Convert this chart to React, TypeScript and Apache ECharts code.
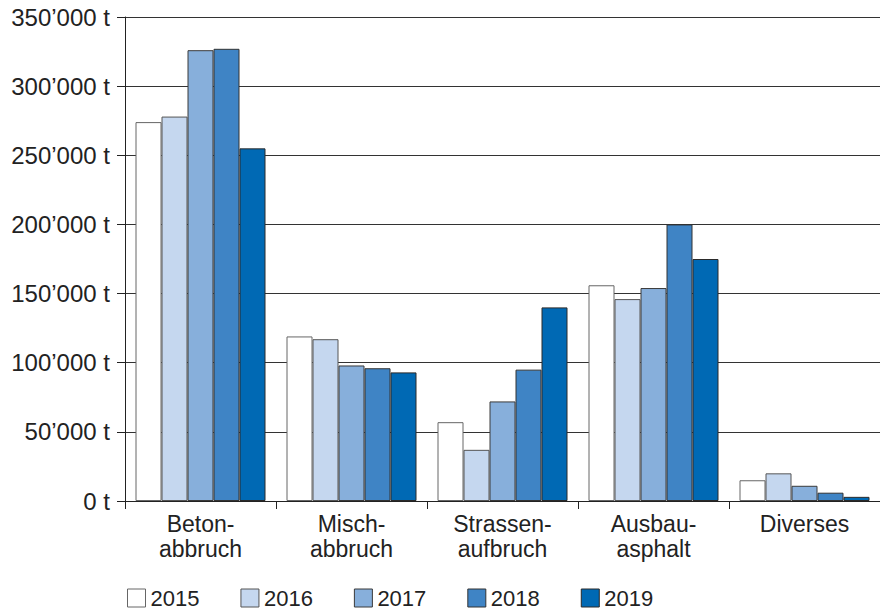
import React, { useEffect, useRef } from "react";
import * as echarts from "echarts";

const categories = ["Beton-\nabbruch", "Misch-\nabbruch", "Strassen-\naufbruch", "Ausbau-\nasphalt", "Diverses"];
const years = ["2015", "2016", "2017", "2018", "2019"];
const v2015 = [274000, 119000, 57000, 156000, 15000];
const v2016 = [278000, 117000, 37000, 146000, 20000];
const v2017 = [326000, 98000, 72000, 154000, 11000];
const v2018 = [327000, 96000, 95000, 200000, 6000];
const v2019 = [255000, 93000, 140000, 175000, 3000];
const yTickValues = [0, 50000, 100000, 150000, 200000, 250000, 300000, 350000];
const yTickLabels = ["0 t", "50’000 t", "100’000 t", "150’000 t", "200’000 t", "250’000 t", "300’000 t", "350’000 t"];
const colors = ["#ffffff", "#c5d7ef", "#87afdb", "#3f84c5", "#0069b4"];
const borders = ["#666666", "#555555", "#3a3a3a", "#333333", "#2a2a2a"];

const FONT = "Liberation Sans, Arial, sans-serif";

export default function App() {
  const ref = useRef<HTMLDivElement>(null);
  useEffect(() => {
    document.body.style.margin = "0";
    if (!ref.current) return;
    const chart = echarts.init(ref.current, undefined, { renderer: "svg" });
    const seriesData = [v2015, v2016, v2017, v2018, v2019];
    chart.setOption({
      animation: false,
      backgroundColor: "#ffffff",
      textStyle: { fontFamily: FONT },
      grid: { left: 125, right: -11, top: 17, bottom: 110, containLabel: false },
      legend: {
        data: years.map((y, i) => ({ name: y, itemStyle: { borderColor: borders[i], borderWidth: 1 } })),
        left: 127,
        top: 587,
        padding: 0,
        itemWidth: 18,
        itemHeight: 18,
        itemGap: 41,
        icon: "rect",
        textStyle: { fontSize: 22, lineHeight: 20, color: "#222", fontFamily: FONT },
      },
      xAxis: {
        type: "category",
        data: categories,
        axisLine: { lineStyle: { color: "#222", width: 1 } },
        axisTick: { show: true, length: 8, alignWithLabel: false, lineStyle: { color: "#222" } },
        axisLabel: { fontSize: 23, color: "#222", lineHeight: 25, margin: 10, fontFamily: FONT, interval: 0 },
        splitLine: { show: false },
      },
      yAxis: {
        type: "value",
        min: 0,
        max: 350000,
        interval: 50000,
        axisLine: { show: true, lineStyle: { color: "#222", width: 1 } },
        axisTick: { show: true, length: 8, lineStyle: { color: "#222" } },
        axisLabel: {
          fontSize: 24,
          color: "#222",
          margin: 15,
          fontFamily: FONT,
          formatter: (v: number) => {
            const i = yTickValues.indexOf(v);
            return i >= 0 ? yTickLabels[i] : "";
          },
        },
        splitLine: { show: true, lineStyle: { color: "#333", width: 1 } },
      },
      series: years.map((y, i) => ({
        name: y,
        type: "bar",
        data: seriesData[i],
        barWidth: 26,
        barGap: "0%",
        itemStyle: { color: colors[i], borderColor: borders[i], borderWidth: 1 },
      })),
    });
    return () => chart.dispose();
  }, []);
  return <div ref={ref} style={{ width: 880, height: 611 }} />;
}
